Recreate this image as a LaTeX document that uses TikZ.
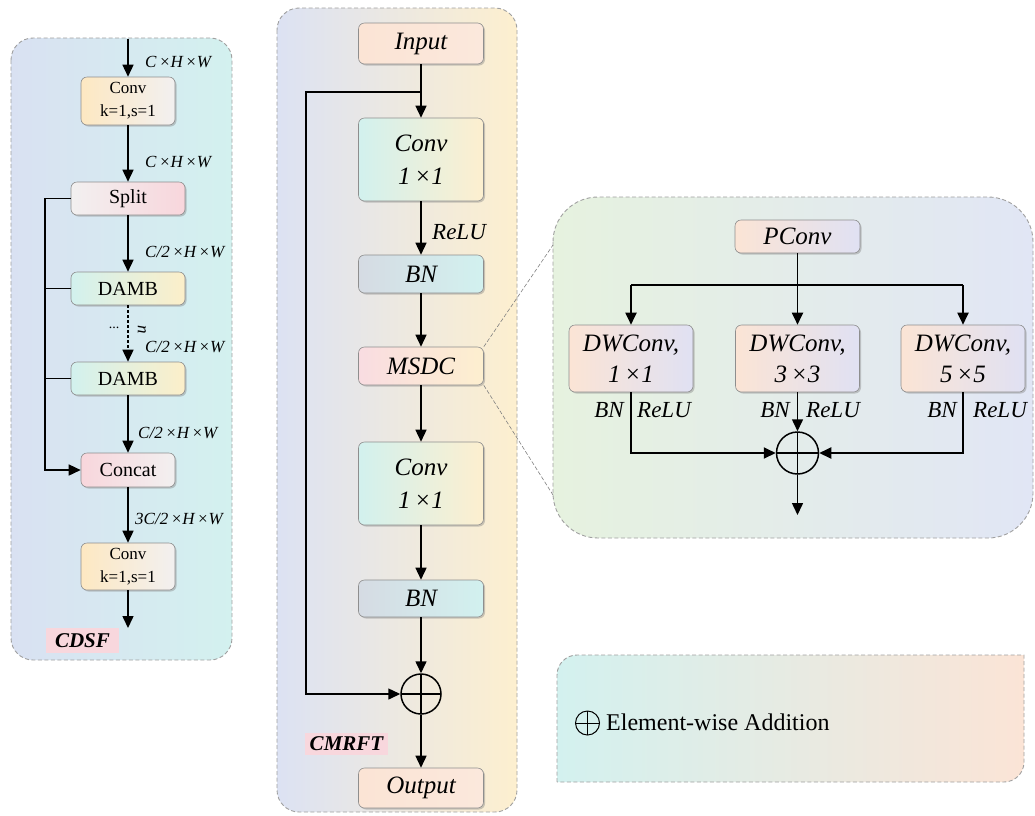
\documentclass[tikz,border=0pt]{standalone}
\usepackage{fontspec}
\setmainfont{Liberation Serif}
\usetikzlibrary{arrows.meta,shadows}

% panel backgrounds
\definecolor{cdsfL}{HTML}{D9E1F2}
\definecolor{cdsfR}{HTML}{D3F1EF}
\definecolor{cmrL}{HTML}{DCE2F3}
\definecolor{cmrM}{HTML}{F2EEEC}
\definecolor{cmrR}{HTML}{FDEFCF}
\definecolor{msdL}{HTML}{E6F2DF}
\definecolor{msdR}{HTML}{E1E6F5}
\definecolor{legL}{HTML}{D3F1EF}
\definecolor{legR}{HTML}{FBE4D6}
% block fills
\definecolor{cYel}{HTML}{FDE8C2}
\definecolor{cGry}{HTML}{F2F0F0}
\definecolor{cPnk}{HTML}{F8D6DC}
\definecolor{cCyn}{HTML}{D2F1EE}
\definecolor{cLtY}{HTML}{FCEFC9}
\definecolor{cPch}{HTML}{FBE4D5}
\definecolor{cPch2}{HTML}{FBE8DC}
\definecolor{cBnL}{HTML}{D5DBE3}
\definecolor{cBnR}{HTML}{D2F1EF}
\definecolor{cLav}{HTML}{E0E1F3}
\definecolor{tagPink}{HTML}{F8D7DD}
\definecolor{frameGray}{HTML}{8E8E8E}
\definecolor{panelGray}{HTML}{A0A0A0}

\begin{document}
\begin{tikzpicture}[x=1pt,y=-1pt,
  panel/.style={draw=panelGray, line width=0.9pt, dash pattern=on 4pt off 2.5pt},
  zoomln/.style={draw=gray, line width=0.6pt, dash pattern=on 4pt off 2pt},
  blk/.style={draw=frameGray, line width=0.6pt, rounded corners=6pt, inner sep=0pt,
    align=center, drop shadow={shadow xshift=1.5pt, shadow yshift=-1.5pt, opacity=0.4}},
  sblk/.style={blk, font=\fontsize{20}{24}\selectfont},
  cvblk/.style={blk, font=\fontsize{17}{23}\selectfont, minimum width=94pt, minimum height=48pt,
    left color=cYel, right color=cGry},
  iblk/.style={blk, font=\fontsize{25}{33}\selectfont\itshape, minimum width=125pt},
  dwblk/.style={iblk, left color=cPch, right color=cLav, minimum width=124pt, minimum height=67pt,
    font=\fontsize{25}{31}\selectfont\itshape},
  dimlbl/.style={anchor=west, inner sep=0pt, font=\fontsize{17}{20}\selectfont\itshape},
  actlbl/.style={inner sep=0pt, font=\fontsize{23}{26}\selectfont\itshape},
  tag/.style={fill=tagPink, inner sep=0pt, font=\fontsize{21}{24}\selectfont\bfseries\itshape},
  ln/.style={line width=1.5pt},
  arr/.style={ln, -{Triangle[length=12pt,width=11pt]}},
  oplus/.style={circle, draw, line width=1.5pt, minimum size=40pt, inner sep=0pt,
    path picture={\draw[line width=1.5pt]
      (path picture bounding box.north) -- (path picture bounding box.south)
      (path picture bounding box.west) -- (path picture bounding box.east);}},
  smallplus/.style={circle, draw, line width=1pt, minimum size=24pt, inner sep=0pt,
    path picture={\draw[line width=1pt]
      (path picture bounding box.north) -- (path picture bounding box.south)
      (path picture bounding box.west) -- (path picture bounding box.east);}}
]
\useasboundingbox (0,0) rectangle (1035,815);

% ---------- panels ----------
\draw[panel, left color=cdsfL, right color=cdsfR, rounded corners=22pt] (11,38) rectangle (232,660);
\draw[panel, left color=cmrL, middle color=cmrM, right color=cmrR, rounded corners=22pt] (277,8) rectangle (517,812);
\draw[panel, left color=msdL, right color=msdR, rounded corners=45pt] (553,197) rectangle (1033,538);
\draw[panel, left color=legL, right color=legR]
  (557,782) -- (557,675) arc[start angle=180, end angle=270, radius=20]
  -- (1024,655) -- (1024,762) arc[start angle=0, end angle=90, radius=20] -- cycle;

% ---------- CDSF ----------
\coordinate (cdsfin) at (128,39);
\node[cvblk] (conva) at (128,101) {Conv\\k=1,s=1};
\node[sblk, minimum width=114pt, minimum height=33pt, left color=cGry, right color=cPnk] (split) at (128,198.5) {Split};
\node[sblk, minimum width=114pt, minimum height=33pt, left color=cCyn, right color=cLtY] (damba) at (128,288.5) {DAMB};
\node[sblk, minimum width=114pt, minimum height=33pt, left color=cCyn, right color=cLtY] (dambb) at (128,378.5) {DAMB};
\node[sblk, minimum width=94pt, minimum height=34pt, left color=cPnk, right color=cGry] (concat) at (128,470) {Concat};
\node[cvblk, minimum height=47pt] (convb) at (128,566.5) {Conv\\k=1,s=1};
\coordinate (cdsfout) at (128,628);
\coordinate (bpA) at (45,0);

\draw[arr] (cdsfin) -- (conva);
\draw[arr] (conva) -- (split);
\draw[arr] (split) -- (damba);
\draw[ln, dashed, dash pattern=on 3pt off 2pt, -{Triangle[length=12pt,width=11pt]}] (damba) -- (dambb);
\draw[arr] (dambb) -- (concat);
\draw[arr] (concat) -- (convb);
\draw[arr] (convb) -- (cdsfout);
\draw[arr] (split.west) -- (split.west -| bpA) |- (concat.west);
\draw[ln] (damba.west) -- (damba.west -| bpA);
\draw[ln] (dambb.west) -- (dambb.west -| bpA);

\node[dimlbl] (d1) at (145,62) {C\kern0.15em×H\kern0.15em×W};
\node[dimlbl] (d2) at (145,162) {C\kern0.15em×H\kern0.15em×W};
\node[dimlbl] (d3) at (145,252) {C/2\kern0.15em×H\kern0.15em×W};
\node[dimlbl] (d4) at (145,347) {C/2\kern0.15em×H\kern0.15em×W};
\node[dimlbl] (d5) at (138,433) {C/2\kern0.15em×H\kern0.15em×W};
\node[dimlbl] (d6) at (135,519) {3C/2\kern0.15em×H\kern0.15em×W};
\node[inner sep=0pt, font=\fontsize{14}{16}\selectfont] (dots) at (114,328) {...};
\node[inner sep=0pt, rotate=-90, font=\fontsize{17}{20}\selectfont\itshape] (nrep) at (142,330) {n};
\node[tag, minimum width=73pt, minimum height=25pt] (cdsftag) at (82.5,640.5) {CDSF};

% ---------- CMRFT ----------
\node[iblk, minimum height=41pt, left color=cPch, right color=cPch2] (input) at (421,43.5) {Input};
\node[iblk, minimum height=83pt, left color=cCyn, middle color=cPnk!80!white, right color=cmrR] (conv1) at (421,159.5) {Conv\\1\kern0.15em×1};
\node[iblk, minimum height=38pt, left color=cBnL, right color=cBnR] (bn1) at (421,274) {BN};
\node[iblk, minimum height=38pt, left color=cPnk!85!white, right color=cmrR] (msdc) at (421,366) {MSDC};
\node[iblk, minimum height=83pt, left color=cCyn, middle color=cPnk!80!white, right color=cmrR] (conv2) at (421,483.5) {Conv\\1\kern0.15em×1};
\node[iblk, minimum height=37pt, left color=cBnL, right color=cBnR] (bn2) at (421,598.5) {BN};
\node[oplus] (add) at (421,694) {};
\node[iblk, minimum height=40pt, left color=cPch, right color=cPch2] (output) at (421,788) {Output};
\coordinate (split1) at (421,92);
\coordinate (bpB) at (306,0);

\draw[ln] (input) -- (split1);
\draw[arr] (split1) -- (conv1);
\draw[arr] (conv1) -- (bn1);
\draw[arr] (bn1) -- (msdc);
\draw[arr] (msdc) -- (conv2);
\draw[arr] (conv2) -- (bn2);
\draw[arr] (bn2) -- (add);
\draw[arr] (add) -- (output);
\draw[arr] (split1) -- (split1 -| bpB) |- (add.west);
\node[actlbl, anchor=west] (relu1) at (432,232) {ReLU};
\node[tag, minimum width=83pt, minimum height=22pt] (cmrtag) at (346.5,743.5) {CMRFT};

% ---------- MSDC detail ----------
\draw[zoomln] (msdc.north east) -- (553,245);
\draw[zoomln] (msdc.south east) -- (553,495);

\node[iblk, minimum height=33pt, left color=cPch, right color=cLav] (pconv) at (797.5,236.5) {PConv};
\node[dwblk] (dw1) at (631,358.5) {DWConv,\\1\kern0.15em×1};
\node[dwblk] (dw2) at (797.5,358.5) {DWConv,\\3\kern0.15em×3};
\node[dwblk] (dw3) at (963,358.5) {DWConv,\\5\kern0.15em×5};
\node[oplus, minimum size=42pt] (add2) at (797.5,453) {};
\coordinate (bus) at (0,285);
\coordinate (msdout) at (797.5,515);

\draw[ln] (pconv) -- (pconv.south |- bus);
\draw[arr, line width=1.9pt] (pconv.south |- bus) -- (dw2);
\draw[arr, line width=1.9pt] (dw1.north |- bus) -- (dw1);
\draw[arr, line width=1.9pt] (dw3.north |- bus) -- (dw3);
\draw[line width=1.9pt] (dw1.north |- bus) -- (dw3.north |- bus);
\draw[arr, line width=1.9pt] (dw1.south) |- (add2.west);
\draw[arr] (dw2) -- (add2);
\draw[arr, line width=1.9pt] (dw3.south) |- (add2.east);
\draw[arr] (add2) -- (msdout);

\node[actlbl, anchor=east] (bna) at (624,410) {BN};
\node[actlbl, anchor=west] (rla) at (637,410) {ReLU};
\node[actlbl, anchor=east] (bnb) at (790,410) {BN};
\node[actlbl, anchor=west] (rlb) at (806,410) {ReLU};
\node[actlbl, anchor=east] (bnc) at (957,410) {BN};
\node[actlbl, anchor=west] (rlc) at (973,410) {ReLU};

% ---------- legend ----------
\node[smallplus] (legplus) at (587.5,723) {};
\node[anchor=west, inner sep=0pt, font=\fontsize{24}{28}\selectfont] (legtxt) at (606,722) {Element-wise Addition};
\end{tikzpicture}
\end{document}
